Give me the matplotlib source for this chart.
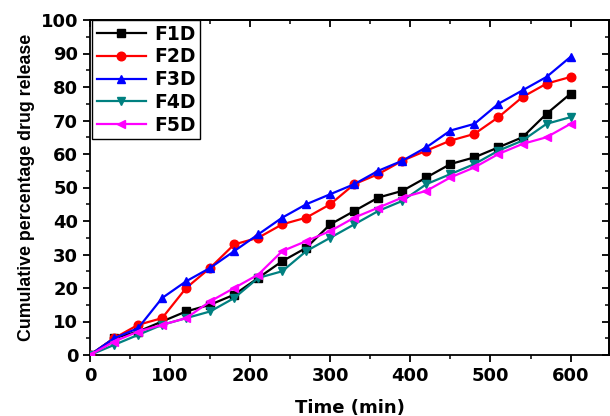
import matplotlib
matplotlib.use("Agg")
import matplotlib.pyplot as plt
from matplotlib.ticker import MultipleLocator

time_min = [0, 30, 60, 90, 120, 150, 180, 210, 240, 270, 300, 330, 360, 390, 420, 450, 480, 510, 540, 570, 600]
f1d = [0, 5, 7, 10, 13, 15, 18, 23, 28, 32, 39, 43, 47, 49, 53, 57, 59, 62, 65, 72, 78]
f2d = [0, 5, 9, 11, 20, 26, 33, 35, 39, 41, 45, 51, 54, 58, 61, 64, 66, 71, 77, 81, 83]
f3d = [0, 5, 8, 17, 22, 26, 31, 36, 41, 45, 48, 51, 55, 58, 62, 67, 69, 75, 79, 83, 89]
f4d = [0, 3, 6, 9, 11, 13, 17, 23, 25, 31, 35, 39, 43, 46, 51, 54, 57, 61, 64, 69, 71]
f5d = [0, 4, 7, 9, 11, 16, 20, 24, 31, 34, 37, 41, 44, 47, 49, 53, 56, 60, 63, 65, 69]

series_names = ["F1D", "F2D", "F3D", "F4D", "F5D"]
series_values = [f1d, f2d, f3d, f4d, f5d]
colors = ["#000000", "#FF0000", "#0000FF", "#008080", "#FF00FF"]
markers = ["s", "o", "^", "v", "<"]

fig = plt.figure(figsize=(6.10, 4.16), dpi=100)
ax = fig.add_axes([90/610, 61/416, 519/610, 335/416])

for name, vals, c, m in zip(series_names, series_values, colors, markers):
    ax.plot(time_min, vals, color=c, marker=m, markersize=6.2, linewidth=1.6,
            label=name, zorder=3)

ax.set_xlim(0, 648)
ax.set_ylim(0, 100)
ax.xaxis.set_major_locator(MultipleLocator(100))
ax.xaxis.set_minor_locator(MultipleLocator(50))
ax.yaxis.set_major_locator(MultipleLocator(10))
ax.yaxis.set_minor_locator(MultipleLocator(5))

for s in ax.spines.values():
    s.set_linewidth(1.3)

ax.tick_params(which="major", direction="out", length=5, width=1.3,
               labelsize=13)
ax.tick_params(which="minor", direction="out", length=3, width=1.1)
for lbl in ax.get_xticklabels() + ax.get_yticklabels():
    lbl.set_fontweight("bold")
    lbl.set_family("DejaVu Sans")

# mirrored inward ticks on top and right
secx = ax.secondary_xaxis("top")
secx.xaxis.set_major_locator(MultipleLocator(100))
secx.xaxis.set_minor_locator(MultipleLocator(50))
secx.tick_params(which="major", direction="in", length=5, width=1.3, labeltop=False)
secx.tick_params(which="minor", direction="in", length=3, width=1.1)
secx.spines["top"].set_linewidth(1.3)
secy = ax.secondary_yaxis("right")
secy.yaxis.set_major_locator(MultipleLocator(10))
secy.yaxis.set_minor_locator(MultipleLocator(5))
secy.tick_params(which="major", direction="in", length=5, width=1.3, labelright=False)
secy.tick_params(which="minor", direction="in", length=3, width=1.1)
secy.spines["right"].set_linewidth(1.3)

ax.set_xlabel("Time (min)", fontsize=13, fontweight="bold", family="DejaVu Sans", labelpad=10)
ax.set_ylabel("Cumulative percentage drug release", fontsize=12.8, fontweight="bold",
              family="Liberation Sans", labelpad=4)

leg = ax.legend(loc="upper left", bbox_to_anchor=(0.004, 1.0), borderaxespad=0,
                fancybox=False, edgecolor="black", framealpha=1,
                prop={"family": "DejaVu Sans", "weight": "bold", "size": 13.5},
                handlelength=2.6, handletextpad=0.45, labelspacing=0.2,
                borderpad=0.25)
leg.get_frame().set_linewidth(1.0)

fig.savefig("out.png", dpi=100)
